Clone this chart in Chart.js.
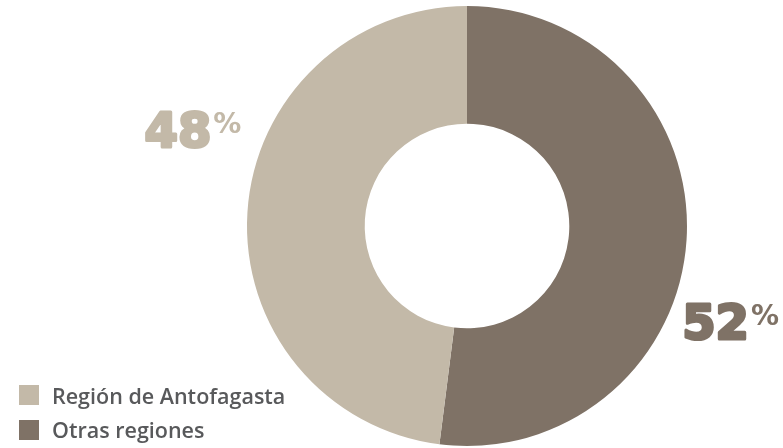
<!DOCTYPE html>
<html>
<head>
<meta charset="utf-8">
<script src="https://cdn.jsdelivr.net/npm/chart.js@4"></script>
<style>
  html, body { margin: 0; padding: 0; background: #ffffff; }
  #wrap { position: relative; width: 783px; height: 448px; }
  #legend { position: absolute; left: 19px; top: 378px; font-family: "Open Sans", sans-serif; font-size: 21.5px; color: #58595b; font-weight: 600; }
  .row { display: flex; align-items: center; height: 34.5px; }
  .box { width: 20px; height: 20px; margin-right: 13px; }
</style>
</head>
<body>
<div id="wrap">
  <canvas id="c" width="783" height="448"></canvas>
  <div id="legend"></div>
</div>
<script>
const categories = ["Otras regiones", "Región de Antofagasta"];
const values = [52, 48];
const colors = ["#7f7266", "#c3b9a8"];
const legendOrder = [1, 0];

const pctLabels = {
  id: 'pctLabels',
  afterDatasetsDraw(chart) {
    const ctx = chart.ctx;
    const meta = chart.getDatasetMeta(0);
    meta.data.forEach((arc, i) => {
      const cx = arc.x, cy = arc.y, R = arc.outerRadius;
      const num = String(values[i]);
      ctx.save();
      ctx.fillStyle = colors[i];
      ctx.strokeStyle = colors[i];
      ctx.lineWidth = 3;
      ctx.lineJoin = 'round';
      ctx.textBaseline = 'alphabetic';
      const bigFont = 'bold 48px "DejaVu Sans"';
      const smallFont = 'bold 28px "DejaVu Sans"';
      ctx.font = bigFont;
      const wNum = ctx.measureText(num).width;
      ctx.font = smallFont;
      const wPct = ctx.measureText('%').width;
      let x, y;
      if (i === 0) { x = Math.min(cx + R * 1.03, chart.width - 4 - wNum - wPct - 2); y = cy + 113; }
      else { x = cx - R * 1.03 - (wNum + wPct) - 1; y = cy - 79; }
      ctx.font = bigFont;
      ctx.textAlign = 'left';
      ctx.strokeText(num, x, y);
      ctx.fillText(num, x, y);
      ctx.font = smallFont;
      ctx.fillText('%', x + wNum + 2, y - 14);
      ctx.restore();
    });
  }
};

const chart = new Chart(document.getElementById('c'), {
  type: 'doughnut',
  data: {
    labels: categories,
    datasets: [{ data: values, backgroundColor: colors, borderWidth: 0 }]
  },
  options: {
    responsive: false,
    animation: false,
    cutout: '46.5%',
    rotation: 0,
    layout: { padding: { left: 151, right: 0, top: 6, bottom: 2 } },
    plugins: { legend: { display: false }, tooltip: { enabled: false } }
  },
  plugins: [pctLabels]
});

const leg = document.getElementById('legend');
legendOrder.forEach(i => {
  const row = document.createElement('div');
  row.className = 'row';
  const b = document.createElement('div');
  b.className = 'box';
  b.style.background = colors[i];
  const t = document.createElement('span');
  t.textContent = categories[i];
  row.appendChild(b); row.appendChild(t);
  leg.appendChild(row);
});
</script>
</body>
</html>
